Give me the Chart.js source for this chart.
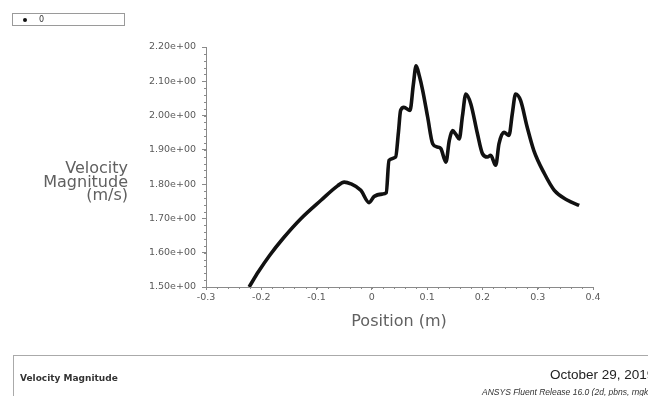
<!DOCTYPE html>
<html>
<head>
<meta charset="utf-8">
<script src="https://cdn.jsdelivr.net/npm/chart.js@4.4.1/dist/chart.umd.min.js"></script>
<style>
  html, body { margin: 0; padding: 0; background: #fff; width: 648px; height: 396px; overflow: hidden; }
  body { position: relative; font-family: "DejaVu Sans", sans-serif; }
  #wrap { position: absolute; left: 0; top: 0; width: 648px; height: 396px; }
  .legend { position: absolute; left: 12px; top: 13px; width: 111px; height: 11px; border: 1px solid #9a9a9a; }
  .legend .dot { position: absolute; left: 10px; top: 4px; width: 4px; height: 4px; border-radius: 50%; background: #111; }
  .legend .lbl { position: absolute; left: 26px; top: 0; font-size: 8px; line-height: 11px; color: #333; }
  .ytitle { position: absolute; right: 520px; top: 161px; text-align: right; font-size: 16px; line-height: 13.5px; color: #606060; }
  .xtitle { position: absolute; left: 300px; width: 198px; top: 312px; text-align: center; font-size: 16px; line-height: 18px; color: #606060; }
  .footer { position: absolute; left: 13px; top: 355px; width: 660px; height: 60px; border-top: 1px solid #aaa; border-left: 1px solid #aaa; }
  .fleft { position: absolute; left: 20px; top: 373px; font-size: 9px; font-weight: bold; color: #333; white-space: nowrap; }
  .fdate { position: absolute; left: 550px; top: 367px; font-family: "Liberation Sans", sans-serif; font-size: 13.5px; color: #222; white-space: nowrap; }
  .fver { position: absolute; left: 482px; top: 387px; font-family: "Liberation Sans", sans-serif; font-style: italic; font-size: 8.5px; color: #333; white-space: nowrap; }
</style>
</head>
<body>
<div id="wrap"><canvas id="velChart"></canvas></div>
<div class="legend"><span class="dot"></span><span class="lbl">0</span></div>
<div class="ytitle">Velocity<br>Magnitude<br>(m/s)</div>
<div class="xtitle">Position (m)</div>
<div class="footer"></div>
<div class="fleft">Velocity Magnitude</div>
<div class="fdate">October 29, 2019</div>
<div class="fver">ANSYS Fluent Release 16.0 (2d, pbns, rngke)</div>

<script>
// values
const positions = [-0.222, -0.205, -0.185, -0.160, -0.128, -0.092, -0.062, -0.050, -0.038, -0.020,
                   -0.005, 0.004, 0.019, 0.026, 0.031, 0.043, 0.048, 0.052, 0.058, 0.069,
                   0.075, 0.080, 0.086, 0.092, 0.101, 0.110, 0.119, 0.125, 0.134, 0.140,
                   0.146, 0.152, 0.158, 0.164, 0.170, 0.179, 0.191, 0.200, 0.209, 0.215,
                   0.224, 0.230, 0.239, 0.248, 0.254, 0.260, 0.269, 0.281, 0.293, 0.312,
                   0.330, 0.354, 0.375];
const velocity  = [1.500, 1.545, 1.592, 1.643, 1.700, 1.753, 1.795, 1.806, 1.801, 1.782,
                   1.746, 1.764, 1.771, 1.775, 1.869, 1.879, 1.950, 2.015, 2.024, 2.015,
                   2.090, 2.145, 2.115, 2.073, 1.995, 1.918, 1.908, 1.903, 1.864, 1.927,
                   1.956, 1.945, 1.932, 2.000, 2.063, 2.034, 1.947, 1.889, 1.879, 1.884,
                   1.855, 1.918, 1.951, 1.942, 2.005, 2.063, 2.044, 1.966, 1.898, 1.831,
                   1.782, 1.753, 1.738];
const xTicks = [-0.3, -0.2, -0.1, 0, 0.1, 0.2, 0.3, 0.4];
const yTicks = [1.5, 1.6, 1.7, 1.8, 1.9, 2.0, 2.1, 2.2];

const tickFont = { family: 'DejaVu Sans', size: 9.5 };

// small minor tick marks along both axes
const minorTicks = {
  id: 'minorTicks',
  afterDraw(chart) {
    const { ctx, scales: { x, y } } = chart;
    ctx.save();
    ctx.strokeStyle = '#8a8a8a';
    ctx.lineWidth = 1;
    ctx.beginPath();
    for (let i = 0; i <= 35; i++) {
      const px = Math.round(x.getPixelForValue(-0.3 + i * 0.02)) + 0.5;
      ctx.moveTo(px, x.top);
      ctx.lineTo(px, x.top + 2);
    }
    for (let i = 0; i <= 35; i++) {
      const py = Math.round(y.getPixelForValue(1.5 + i * 0.02)) + 0.5;
      ctx.moveTo(y.right, py);
      ctx.lineTo(y.right - 2, py);
    }
    ctx.stroke();
    ctx.restore();
  }
};

new Chart(document.getElementById('velChart'), {
  type: 'scatter',
  data: {
    datasets: [{
      label: '0',
      data: positions.map((p, i) => ({ x: p, y: velocity[i] })),
      showLine: true,
      borderColor: '#111',
      borderWidth: 3.6,
      pointRadius: 0,
      cubicInterpolationMode: 'monotone',
    }],
  },
  options: {
    responsive: true,
    maintainAspectRatio: false,
    animation: false,
    layout: { padding: { top: 47, right: 55, left: 0, bottom: 0 } },
    plugins: { legend: { display: false }, tooltip: { enabled: false } },
    scales: {
      x: {
        type: 'linear',
        min: xTicks[0],
        max: xTicks[xTicks.length - 1],
        afterFit: s => { s.height = 109; },
        afterBuildTicks: s => { s.ticks = xTicks.map(v => ({ value: v })); },
        ticks: {
          color: '#5a5a5a', font: tickFont, padding: 2, maxRotation: 0,
          callback: v => Math.abs(v) < 1e-9 ? '0' : v.toFixed(1),
        },
        grid: { display: true, drawOnChartArea: false, drawTicks: true, tickLength: 3, color: '#8a8a8a' },
        border: { display: true, color: '#8a8a8a', width: 1 },
      },
      y: {
        min: yTicks[0],
        max: yTicks[yTicks.length - 1],
        afterFit: s => { s.width = 206; },
        afterBuildTicks: s => { s.ticks = yTicks.map(v => ({ value: v })); },
        ticks: {
          color: '#5a5a5a', font: tickFont, padding: 6,
          callback: v => v.toFixed(2) + 'e+00',
        },
        grid: { display: true, drawOnChartArea: false, drawTicks: true, tickLength: 4, color: '#8a8a8a' },
        border: { display: true, color: '#8a8a8a', width: 1 },
      },
    },
  },
  plugins: [minorTicks],
});
</script>
</body>
</html>
